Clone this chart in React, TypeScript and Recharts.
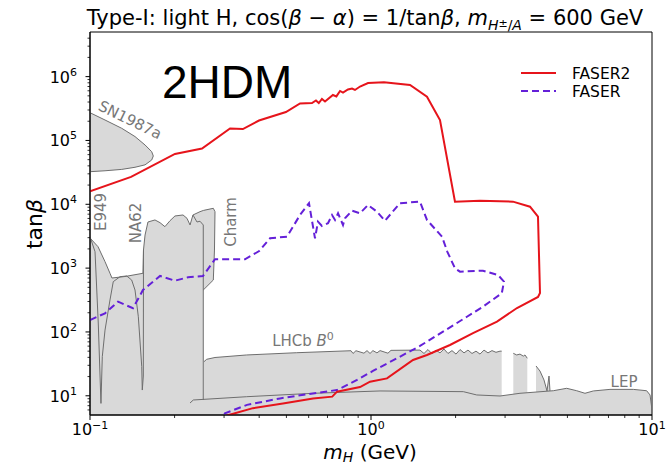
import React from 'react';
import { ComposedChart, Line, Area, XAxis, YAxis, ReferenceArea } from 'recharts';

// log axes: decade ticks with labels, plus the minor ticks matplotlib draws
const xMajorTicks = [0.1, 1, 10];
const xTickExponents = ['−1', '0', '1'];
const xMinorTicks = [0.2, 0.3, 0.4, 0.5, 0.6, 0.7, 0.8, 0.9, 2, 3, 4, 5, 6, 7, 8, 9];
const yMajorTicks = [10, 100, 1000, 10000, 100000, 1000000];
const yTickExponents = ['1', '2', '3', '4', '5', '6'];
const yMinorTicks = [
  6, 7, 8, 9, 20, 30, 40, 50, 60, 70, 80, 90, 200, 300, 400, 500, 600, 700, 800, 900,
  2000, 3000, 4000, 5000, 6000, 7000, 8000, 9000, 20000, 30000, 40000, 50000, 60000, 70000, 80000, 90000,
  200000, 300000, 400000, 500000, 600000, 700000, 800000, 900000, 2000000, 3000000, 4000000,
];

// FASER2 sensitivity contour [m_H, tanβ]
const faser2 = [
  [0.1, 15900], [0.14, 26800], [0.2006, 61400], [0.2504, 74800], [0.315, 154000], [0.35, 151000],
  [0.3994, 205000], [0.498, 279000], [0.559, 379000], [0.6166, 386000], [0.637, 423000], [0.652, 386000],
  [0.669, 446000], [0.686, 408000], [0.732, 516000], [0.753, 490000], [0.776, 596000], [0.795, 560000],
  [0.828, 629000], [0.856, 650000], [0.877, 618000], [0.914, 700000], [0.976, 795000], [1.112, 815000],
  [1.377, 740000], [1.582, 485000], [1.76, 209000], [1.99, 11000], [2.443, 11400], [3.201, 11000],
  [3.68, 9170], [3.929, 6390], [3.994, 408], [3.93, 353], [3.308, 237], [2.808, 145], [2.307, 96],
  [1.91, 62.5], [1.582, 43.6], [1.411, 36.4], [1.14, 18.7], [0.992, 16.6], [0.914, 13.7], [0.757, 11.6],
  [0.728, 9.7], [0.622, 9.1], [0.486, 7.6], [0.38, 6.4], [0.307, 4.9],
];

// FASER sensitivity contour
const faser = [
  [0.1, 154], [0.1131, 196], [0.1258, 298], [0.1422, 235], [0.1543, 454], [0.1775, 753], [0.2006, 635],
  [0.2233, 718], [0.2524, 753], [0.2785, 1375], [0.356, 1375], [0.4, 1850], [0.4371, 2930], [0.5025, 3110],
  [0.559, 6800], [0.6017, 10400], [0.632, 2930], [0.6475, 5340], [0.669, 4570], [0.703, 5040],
  [0.7266, 6800], [0.7446, 5680], [0.7633, 7230], [0.795, 4740], [0.808, 6030], [0.856, 7940],
  [0.914, 7230], [0.976, 9750], [1.05, 7660], [1.121, 5530], [1.268, 10400], [1.494, 11000],
  [1.582, 5680], [1.789, 3110], [1.87, 1800], [1.99, 993], [2.074, 879], [2.503, 912], [2.831, 780],
  [2.974, 613], [2.92, 403], [2.503, 249], [2.195, 173], [1.804, 101], [1.494, 60.3], [1.237, 38.7],
  [1.016, 24.5], [0.892, 17.7], [0.757, 12.3], [0.622, 10.9], [0.4745, 9.1], [0.362, 7.2], [0.302, 5.3],
  [0.298, 4.9],
];

// excluded regions: [m_H, lower, upper]
const sn1987aRegion = [
  [0.1, 32400, 272000], [0.1131, 33500, 209000], [0.1297, 35200, 155000], [0.1446, 38000, 115000],
  [0.157, 41500, 84900], [0.1658, 49400, 66700], [0.168, 57100, 57100],
];
const beamDumpRegion = [
  [0.1, 5, 2965], [0.1068, 5, 2166], [0.1131, 5, 1261], [0.1178, 5, 830], [0.1197, 5, 700],
  [0.1332, 5, 739], [0.1543, 5, 830], [0.155, 5, 1920], [0.157, 5, 3300], [0.1608, 5, 5280],
  [0.1703, 5, 5680], [0.1775, 5, 5150], [0.1848, 5, 4460], [0.1926, 5, 5530], [0.2006, 5, 6560],
  [0.2143, 5, 6800], [0.2214, 5, 6030], [0.227, 5, 4740], [0.2325, 5, 6800], [0.2463, 5, 7660],
  [0.253, 5, 8000], [0.253, 454, 8000], [0.2566, 483, 8200], [0.2747, 651, 8650], [0.2773, 1920, 8000],
  [0.2785, 7660, 7660],
];
const lhcbRegion = [
  [0.2544, 5, 34.2], [0.2602, 5, 37.3], [0.2785, 5, 39.8], [0.361, 5, 43.6], [0.544, 5, 47.3],
  [0.849, 5, 50.8], [0.863, 5, 46], [0.884, 5, 50.8], [0.944, 5, 46.5], [0.968, 5, 51], [0.992, 5, 46],
  [1.016, 5, 51], [1.05, 5, 47], [1.077, 5, 51], [1.149, 5, 46.5], [1.178, 5, 51.5], [1.494, 5, 52],
  [1.544, 5, 46], [1.595, 5, 53], [1.648, 5, 45.5], [1.703, 5, 52], [1.76, 5, 47], [1.819, 5, 54],
  [1.879, 5, 46], [1.942, 5, 51], [2.007, 5, 45], [2.074, 5, 53], [2.143, 5, 47], [2.214, 5, 52],
  [2.288, 5, 46], [2.364, 5, 50], [2.443, 5, 45], [2.524, 5, 52], [2.608, 5, 47], [2.695, 5, 51],
  [2.785, 5, 48], [2.878, 5, 50], [2.918, 5, 50],
];
const lhcbRegion2 = [
  [3.209, 5, 46.3], [3.3, 5, 43.6], [3.39, 5, 45], [3.483, 5, 41.8], [3.532, 5, 43.6], [3.599, 5, 38.7],
];
const lhcbRegion3 = [
  [3.866, 5, 29.3], [3.994, 5, 24.4], [4.127, 5, 17.7], [4.23, 5, 11.9], [4.3, 5, 20.4], [4.335, 5, 11.9],
];
const lepRegion = [
  [0.227, 5, 7.71], [0.2332, 5, 8.59], [0.361, 5, 9.67], [0.6233, 5, 10.94], [1.077, 5, 11.9],
  [2.131, 5, 11.6], [2.378, 5, 10.3], [2.878, 5, 9.92], [3.39, 5, 10.94], [4.455, 5, 12.0],
  [4.97, 5, 13.1], [5.395, 5, 12.0], [5.775, 5, 10.94], [6.18, 5, 11.9], [7.087, 5, 12.6],
  [8.58, 5, 12.6], [9.57, 5, 12.0], [9.84, 5, 10.3], [10, 5, 6.0],
];

// edges drawn inside the grey areas (E949 / NA62 dips, Charm boundary)
const e949Edge = [
  [0.1, 3105], [0.1042, 1808], [0.107, 138], [0.1094, 7.6], [0.1106, 41], [0.1131, 107], [0.1178, 317],
  [0.121, 613], [0.1279, 734], [0.1351, 753], [0.1407, 651], [0.1446, 454], [0.1486, 173], [0.1528, 28.6],
  [0.1535, 12.3], [0.1548, 20.4], [0.155, 1920],
];
const charmEdge = [[0.2325, 6800], [0.2403, 5280], [0.2463, 5420], [0.253, 4740], [0.253, 8.59]];

const GREY_FILL = '#d9d9d9';
const GREY_EDGE = '#6e6e6e';
const RED = '#e6141b';
const PURPLE = '#6420d8';
const FONT = '"DejaVu Sans", sans-serif';

const toPoints = (rows: number[][]) => rows.map(([x, y]) => ({ x, y }));
const toRange = (rows: number[][]) => rows.map(([x, lo, hi]) => ({ x, r: [lo, hi] }));
// outline of a range region: upper edge, closed down to the lower edge
const outline = (rows: number[][]) => [
  { x: rows[0][0], y: rows[0][1] },
  ...rows.map(([x, , hi]) => ({ x, y: hi })),
  { x: rows[rows.length - 1][0], y: rows[rows.length - 1][1] },
];
const ringOutline = (rows: number[][]) => [
  ...rows.map(([x, , hi]) => ({ x, y: hi })),
  ...rows.slice().reverse().map(([x, lo]) => ({ x, y: lo })),
];

function XTick(props: any) {
  const { x, y, payload } = props;
  const i = xMajorTicks.indexOf(payload.value);
  const major = i >= 0;
  return (
    <g>
      <line x1={x} x2={x} y1={y} y2={y + (major ? 5 : 3)} stroke="#000" strokeWidth={major ? 1 : 0.8} />
      {major && (
        <text x={x} y={y + 20} textAnchor="middle" fontSize={16} fontFamily={FONT} fill="#000">
          10<tspan dy={-6} fontSize={11}>{xTickExponents[i]}</tspan>
        </text>
      )}
    </g>
  );
}

function YTick(props: any) {
  const { x, y, payload } = props;
  const i = yMajorTicks.indexOf(payload.value);
  const major = i >= 0;
  return (
    <g>
      <line x1={x} x2={x - (major ? 4.5 : 2.5)} y1={y} y2={y} stroke="#000" strokeWidth={major ? 1 : 0.8} />
      {major && (
        <text x={x - 13} y={y + 6} textAnchor="end" fontSize={16} fontFamily={FONT} fill="#000">
          10<tspan dy={-7} fontSize={11}>{yTickExponents[i]}</tspan>
        </text>
      )}
    </g>
  );
}

const regionText = { fontSize: 15, fontFamily: FONT, fill: '#777' };

export default function App() {
  const fills = [sn1987aRegion, beamDumpRegion, lhcbRegion, lhcbRegion2, lhcbRegion3, lepRegion];
  const edges = [
    ringOutline(sn1987aRegion),
    [...toPoints([[0.1, 5]]), ...beamDumpRegion.slice(0, 21).map(([x, , hi]) => ({ x, y: hi })),
      ...toPoints([[0.2747, 8650], [0.2785, 7660], [0.2773, 1920], [0.2747, 651], [0.2566, 483], [0.253, 454]])],
    toPoints(e949Edge),
    toPoints(charmEdge),
    outline([[0.2544, 8.59, 0], ...lhcbRegion, [2.918, 9.92, 0]]),
    outline([[3.209, 11.0, 0], ...lhcbRegion2, [3.599, 11.6, 0]]),
    outline([[3.866, 11.9, 0], ...lhcbRegion3, [4.335, 11.9, 0]]),
    outline([[0.227, 5, 0], ...lepRegion, [10, 5, 0]]),
  ];

  return (
    <div style={{ position: 'absolute', left: 0, top: 0, width: 666, height: 467, background: '#fff' }}>
      <ComposedChart width={666} height={467} margin={{ top: 32, right: 14, bottom: 0, left: 0 }}>
        <XAxis
          dataKey="x"
          type="number"
          scale="log"
          domain={[0.1, 10]}
          allowDataOverflow
          ticks={[...xMajorTicks, ...xMinorTicks]}
          interval={0}
          tick={(p: any) => <XTick {...p} />}
          tickLine={false}
          tickSize={0}
          tickMargin={0}
          axisLine={{ stroke: '#000' }}
          height={52}
        />
        <YAxis
          type="number"
          scale="log"
          domain={[5, 5000000]}
          allowDataOverflow
          ticks={[...yMajorTicks, ...yMinorTicks]}
          interval={0}
          tick={(p: any) => <YTick {...p} />}
          tickLine={false}
          tickSize={0}
          tickMargin={0}
          axisLine={{ stroke: '#000' }}
          width={90}
        />
        {fills.map((rows, k) => (
          <Area
            key={`fill-${k}`}
            data={toRange(rows)}
            dataKey="r"
            type="linear"
            stroke="none"
            fill={GREY_FILL}
            fillOpacity={1}
            dot={false}
            activeDot={false}
            isAnimationActive={false}
          />
        ))}
        {edges.map((pts, k) => (
          <Line
            key={`edge-${k}`}
            data={pts}
            dataKey="y"
            type="linear"
            stroke={GREY_EDGE}
            strokeWidth={1}
            dot={false}
            activeDot={false}
            isAnimationActive={false}
          />
        ))}
        <Line
          data={toPoints(faser)}
          dataKey="y"
          type="linear"
          stroke={PURPLE}
          strokeWidth={2}
          strokeDasharray="7 4"
          dot={false}
          activeDot={false}
          isAnimationActive={false}
        />
        <Line
          data={toPoints(faser2)}
          dataKey="y"
          type="linear"
          stroke={RED}
          strokeWidth={2}
          dot={false}
          activeDot={false}
          isAnimationActive={false}
        />
        <ReferenceArea x1={0.1} x2={10} y1={5} y2={5000000} fill="none" stroke="#000" strokeWidth={1} />
      </ComposedChart>

      <svg width={666} height={467} style={{ position: 'absolute', left: 0, top: 0, pointerEvents: 'none' }}>
        <text x={365} y={25} textAnchor="middle" fontSize={21} fontFamily={FONT} fill="#000">
          Type-I: light H, cos(<tspan fontStyle="italic">β</tspan> − <tspan fontStyle="italic">α</tspan>) = 1/tan
          <tspan fontStyle="italic">β</tspan>, <tspan fontStyle="italic">m</tspan>
          <tspan dy={5} fontSize={14} fontStyle="italic">H</tspan>
          <tspan dy={-3} fontSize={11}>±</tspan>
          <tspan dy={3} fontSize={14}>/</tspan>
          <tspan fontSize={14} fontStyle="italic">A</tspan>
          <tspan dy={-5}> = 600 GeV</tspan>
        </text>

        <text x={162} y={98} fontSize={46} fontFamily='"Liberation Sans", Arial, sans-serif' fill="#000">
          2HDM
        </text>

        <line x1={521} x2={556} y1={73} y2={73} stroke={RED} strokeWidth={2} />
        <text x={572} y={78.5} fontSize={15.5} fontFamily={FONT} fill="#000">FASER2</text>
        <line x1={521} x2={556} y1={91} y2={91} stroke={PURPLE} strokeWidth={2} strokeDasharray="7 4" />
        <text x={572} y={96.5} fontSize={15.5} fontFamily={FONT} fill="#000">FASER</text>

        <text x={370} y={459} textAnchor="middle" fontSize={20} fontFamily={FONT} fill="#000">
          <tspan fontStyle="italic">m</tspan>
          <tspan dy={3} fontSize={14} fontStyle="italic">H</tspan>
          <tspan dy={-3}> (GeV)</tspan>
        </text>
        <text
          x={34}
          y={224}
          transform="rotate(-90 34 224)"
          textAnchor="middle"
          dominantBaseline="central"
          fontSize={22}
          fontFamily={FONT}
          fill="#000"
        >
          tan<tspan fontStyle="italic">β</tspan>
        </text>

        <text x={130} y={120} transform="rotate(26 130 120)" textAnchor="middle" dominantBaseline="central" {...regionText}>
          SN1987a
        </text>
        <text x={101} y={212} transform="rotate(-90 101 212)" textAnchor="middle" dominantBaseline="central" {...regionText}>
          E949
        </text>
        <text x={136} y={223} transform="rotate(-90 136 223)" textAnchor="middle" dominantBaseline="central" {...regionText}>
          NA62
        </text>
        <text x={231} y={222} transform="rotate(-90 231 222)" textAnchor="middle" dominantBaseline="central" {...regionText}>
          Charm
        </text>
        <text x={303} y={346} textAnchor="middle" {...regionText}>
          LHCb <tspan fontStyle="italic">B</tspan>
          <tspan dy={-6} fontSize={11}>0</tspan>
        </text>
        <text x={624} y={387} textAnchor="middle" {...regionText}>
          LEP
        </text>
      </svg>
    </div>
  );
}
